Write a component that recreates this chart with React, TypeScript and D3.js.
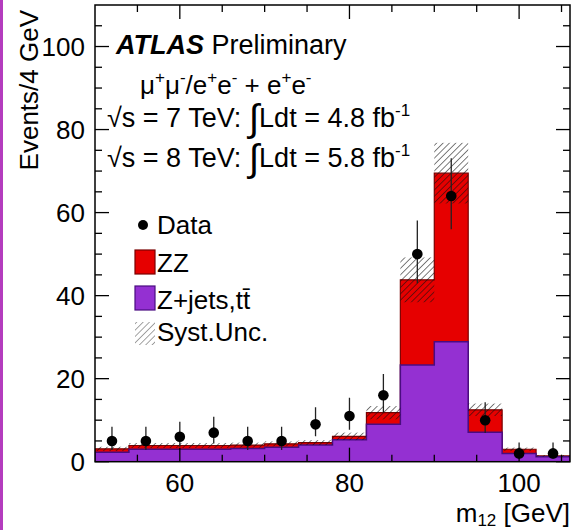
import React from 'react';
import * as d3 from 'd3';

// bin lower edges (4 GeV bins), m12 in GeV
const binLow = [50, 54, 58, 62, 66, 70, 74, 78, 82, 86, 90, 94, 98, 102];
const binWidth = 4;

// stacked background: Z+jets, ttbar (bottom) and ZZ (on top)
const zjets = [2.3, 3.0, 3.0, 3.0, 3.2, 3.5, 4.0, 5.3, 9.0, 23.3, 28.9, 7.1, 2.0, 1.2];
const zz = [0.8, 0.9, 0.9, 0.9, 0.8, 0.8, 0.6, 0.8, 2.8, 20.5, 40.6, 5.4, 1.0, 0.2];
const syst = [0.5, 0.6, 0.6, 0.6, 0.6, 0.6, 0.6, 0.9, 1.6, 5.4, 7.3, 1.5, 0.4, 0.2];

// data with asymmetric (Poisson) errors
const data = [5, 5, 6, 7, 5, 5, 9, 11, 16, 50, 64, 10, 2, 2];
const errHi = [3.4, 3.4, 3.6, 3.8, 3.4, 3.4, 4.1, 4.4, 5.1, 8.1, 9.1, 4.3, 2.6, 2.6];
const errLo = [2.2, 2.2, 2.4, 2.6, 2.2, 2.2, 2.9, 3.3, 4.0, 7.0, 8.0, 3.1, 1.3, 1.3];

const xMajor = [60, 80, 100];
const xMinor = [55, 65, 70, 75, 85, 90, 95, 105];
const yMajor = [0, 20, 40, 60, 80, 100];
const yMinor = [5, 10, 15, 25, 30, 35, 45, 50, 55, 65, 70, 75, 85, 90, 95, 105];

const W = 572;
const H = 530;
const FONT = '"Liberation Sans", Arial, Helvetica, sans-serif';
const RED = '#e60000';
const PURPLE = '#9430d2';

export default function App() {
  const x = d3.scaleLinear().domain([50, 106]).range([95, 570]);
  const y = d3.scaleLinear().domain([0, 110]).range([461.7, 5]);

  const total = zz.map((v, i) => v + zjets[i]);

  // step points (edge, value) for a histogram
  const steps = (vals: number[]) =>
    vals.flatMap((v, i) => [[binLow[i], v], [binLow[i] + binWidth, v]] as [number, number][]);

  const area = d3.area<[number, number]>()
    .x(d => x(d[0]))
    .y0(y(0))
    .y1(d => y(d[1]));
  const line = d3.line<[number, number]>()
    .x(d => x(d[0]))
    .y(d => y(d[1]));

  const outline = (vals: number[]) => {
    const pts = steps(vals);
    return line([[binLow[0], 0], ...pts, [binLow[binLow.length - 1] + binWidth, 0]]);
  };

  const x0 = x.range()[0], x1 = x.range()[1];
  const y0 = y.range()[0], y1 = y.range()[1];
  const sup = { fontSize: 17 };

  return (
    <svg width={W} height={H} style={{ display: 'block', background: '#fff' }} fontFamily={FONT}>
      <style>{`body{margin:0}`}</style>
      <defs>
        <pattern id="hatch" patternUnits="userSpaceOnUse" width={4.5} height={4.5} patternTransform="rotate(45)">
          <line x1={0} y1={0} x2={0} y2={4.5} stroke="#111" strokeWidth={1.1} />
        </pattern>
        <clipPath id="frame">
          <rect x={x0} y={y1} width={x1 - x0} height={y0 - y1} />
        </clipPath>
      </defs>

      <rect x={0} y={0} width={3} height={H} fill="#b43cbe" />

      <g clipPath="url(#frame)">
        <path d={area(steps(total)) || ''} fill={RED} />
        <path d={outline(total) || ''} fill="none" stroke="#7a0000" strokeWidth={1.2} />
        <path d={area(steps(zjets)) || ''} fill={PURPLE} />
        <path d={outline(zjets) || ''} fill="none" stroke="#4a0c80" strokeWidth={1.5} />
        {binLow.map((b, i) => (
          <rect key={b} x={x(b)} width={x(b + binWidth) - x(b)}
            y={y(total[i] + syst[i])} height={y(total[i] - syst[i]) - y(total[i] + syst[i])}
            fill="url(#hatch)" />
        ))}
        {binLow.map((b, i) => (
          <g key={b}>
            <line x1={x(b + binWidth / 2)} x2={x(b + binWidth / 2)}
              y1={y(data[i] + errHi[i])} y2={y(data[i] - errLo[i])} stroke="#222" strokeWidth={1.3} />
            <circle cx={x(b + binWidth / 2)} cy={y(data[i])} r={5.3} fill="#000" />
          </g>
        ))}
      </g>

      {/* frame and ticks */}
      <rect x={x0} y={y1} width={x1 - x0} height={y0 - y1} fill="none" stroke="#000" strokeWidth={1.5} />
      {yMajor.map(v => (
        <g key={v}>
          <line x1={x0} x2={x0 + 14} y1={y(v)} y2={y(v)} stroke="#000" strokeWidth={1.3} />
          <line x1={x1} x2={x1 - 14} y1={y(v)} y2={y(v)} stroke="#000" strokeWidth={1.3} />
          <text x={85} y={y(v)} dy="0.36em" textAnchor="end" fontSize={26}>{v}</text>
        </g>
      ))}
      {yMinor.map(v => (
        <g key={v}>
          <line x1={x0} x2={x0 + 7} y1={y(v)} y2={y(v)} stroke="#000" strokeWidth={1.3} />
          <line x1={x1} x2={x1 - 7} y1={y(v)} y2={y(v)} stroke="#000" strokeWidth={1.3} />
        </g>
      ))}
      {xMajor.map(v => (
        <g key={v}>
          <line x1={x(v)} x2={x(v)} y1={y0} y2={y0 - 14} stroke="#000" strokeWidth={1.3} />
          <line x1={x(v)} x2={x(v)} y1={y1} y2={y1 + 14} stroke="#000" strokeWidth={1.3} />
          <text x={x(v)} y={492} textAnchor="middle" fontSize={26}>{v}</text>
        </g>
      ))}
      {xMinor.map(v => (
        <g key={v}>
          <line x1={x(v)} x2={x(v)} y1={y0} y2={y0 - 7} stroke="#000" strokeWidth={1.3} />
          <line x1={x(v)} x2={x(v)} y1={y1} y2={y1 + 7} stroke="#000" strokeWidth={1.3} />
        </g>
      ))}

      {/* axis titles */}
      <text x={570} y={522} textAnchor="end" fontSize={26}>
        m<tspan fontSize={17} dy={4}>12</tspan><tspan dy={-4}> [GeV]</tspan>
      </text>
      <text transform="translate(38,10) rotate(-90)" textAnchor="end" fontSize={26}>Events/4 GeV</text>

      {/* labels */}
      <text x={116} y={54} fontSize={27}>
        <tspan fontWeight="bold" fontStyle="italic">ATLAS</tspan> Preliminary
      </text>
      <text x={140} y={94} fontSize={26}>
        μ<tspan {...sup} dy={-11}>+</tspan><tspan dy={11}>μ</tspan><tspan {...sup} dy={-11}>-</tspan>
        <tspan dy={11}>/e</tspan><tspan {...sup} dy={-11}>+</tspan><tspan dy={11}>e</tspan>
        <tspan {...sup} dy={-11}>-</tspan><tspan dy={11}> + e</tspan><tspan {...sup} dy={-11}>+</tspan>
        <tspan dy={11}>e</tspan><tspan {...sup} dy={-11}>-</tspan>
      </text>
      {[['7', '4.8', 127], ['8', '5.8', 167]].map(([e, l, yy]) => (
        <text key={e as string} x={107} y={yy as number} fontSize={27}>
          √s = {e} TeV: <tspan fontSize={38} dy={4}>∫</tspan><tspan dy={-4}>Ldt = {l} fb</tspan>
          <tspan {...sup} dy={-11}>-1</tspan>
        </text>
      ))}

      {/* legend */}
      <circle cx={143} cy={225} r={5} fill="#000" />
      <text x={157} y={234} fontSize={26}>Data</text>
      <rect x={135} y={250} width={20} height={24} fill={RED} stroke="#7a0000" strokeWidth={1.2} />
      <text x={157} y={272} fontSize={26}>ZZ</text>
      <rect x={135} y={286} width={20} height={24} fill={PURPLE} stroke="#4a0c80" strokeWidth={1.2} />
      <text x={157} y={309} fontSize={26}>Z+jets,t<tspan>t̄</tspan></text>
      <rect x={135} y={322} width={20} height={23} fill="url(#hatch)" opacity={0.7} />
      <text x={157} y={341} fontSize={26}>Syst.Unc.</text>
    </svg>
  );
}
